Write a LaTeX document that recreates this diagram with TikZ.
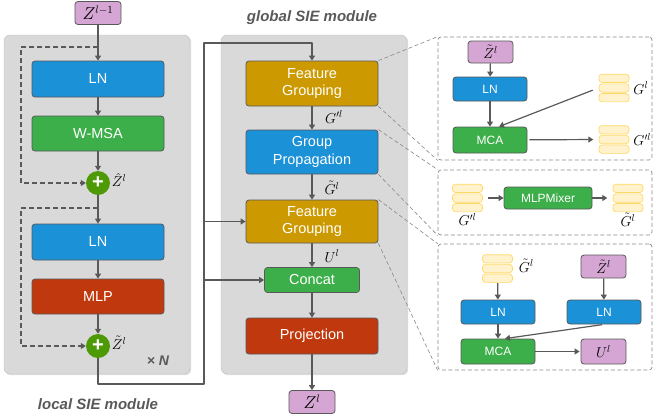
\documentclass[tikz,border=0pt]{standalone}
\usepackage{fontspec}
\setsansfont{Liberation Sans}
\usepackage{amsmath,amssymb}
\usetikzlibrary{calc,arrows.meta,shadows}
\usepackage{xcolor}

\definecolor{lnblue}{RGB}{27,145,216}
\definecolor{opgreen}{RGB}{61,175,74}
\definecolor{mlpred}{RGB}{192,57,14}
\definecolor{fggold}{RGB}{204,153,0}
\definecolor{iopink}{RGB}{213,166,211}
\definecolor{addgreen}{RGB}{78,154,6}
\definecolor{panelgray}{RGB}{217,217,217}
\definecolor{linegray}{RGB}{89,89,89}
\definecolor{guidegray}{RGB}{135,135,135}
\definecolor{tokfill}{RGB}{255,242,204}
\definecolor{tokedge}{RGB}{255,217,102}

% stack of three token bars, named #1, centred at (#2,#3)
\newcommand{\tokenstack}[3]{%
  \node[tokstack] (#1) at (#2,#3) {};
  \foreach \dy in {-9.7,0,9.7}
    \node[tokbar] at ($(#1.center)+(0,\dy)$) {};
}

\begin{document}
\begin{tikzpicture}[x=1pt, y=-1pt, line join=round,
  blk/.style={draw=linegray, line width=0.8pt, rounded corners=3pt, text=white,
    align=center, inner sep=0pt, minimum width=132pt,
    font=\sffamily\fontsize{14.5}{17.5}\selectfont},
  sblk/.style={blk, minimum width=74pt, minimum height=24pt,
    font=\sffamily\fontsize{12}{14}\selectfont},
  iobox/.style={draw=linegray, line width=0.8pt, rounded corners=3pt, fill=iopink,
    inner sep=0pt, minimum width=46pt, minimum height=23pt,
    font=\fontsize{16}{17}\selectfont},
  addop/.style={circle, fill=addgreen, minimum size=24pt, inner sep=0pt,
    text=white, font=\sffamily\bfseries\fontsize{20}{20}\selectfont},
  panel/.style={draw=panelgray!88!black, fill=panelgray, rounded corners=6pt,
    inner sep=0pt, drop shadow={shadow xshift=1.2pt, shadow yshift=-1.2pt, opacity=0.25}},
  zoombox/.style={draw=guidegray, dash pattern=on 4pt off 2.5pt, line width=0.7pt,
    rounded corners=3pt, minimum width=214pt, inner sep=0pt},
  flow/.style={draw=linegray, line width=1.2pt, -{Triangle[length=5pt,width=6pt]}},
  skip/.style={flow, dash pattern=on 5pt off 3pt},
  guide/.style={draw=guidegray, line width=0.6pt, dash pattern=on 4pt off 2.5pt},
  tokstack/.style={minimum width=31pt, minimum height=29pt, inner sep=0pt},
  tokbar/.style={draw=tokedge, fill=tokfill, rounded corners=3pt, line width=0.7pt,
    minimum width=30pt, minimum height=8.3pt, inner sep=0pt},
  lbl/.style={font=\fontsize{14}{15}\selectfont, inner sep=0.5pt},
  title/.style={font=\sffamily\bfseries\itshape\fontsize{15}{17}\selectfont, text=linegray}
]
  \useasboundingbox (0,0) rectangle (655,418);

  % grey module backgrounds
  \node[panel, minimum width=186pt, minimum height=339pt] (localbg) at (97,204.5) {};
  \node[panel, minimum width=186pt, minimum height=339pt] (globalbg) at (314,204.5) {};

  % local SIE module
  \node[iobox] (zin) at (98,13) {$Z^{l-1}$};
  \node[blk, fill=lnblue, minimum height=36pt] (ln1) at (98,79) {LN};
  \node[blk, fill=opgreen, minimum height=35pt] (wmsa) at (98,133.5) {W-MSA};
  \node[addop] (add1) at (98,183) {+};
  \node[lbl, anchor=west] (zhat) at ([xshift=1pt,yshift=3pt]add1.east) {$\hat{Z}^{l}$};
  \node[blk, fill=lnblue, minimum height=36pt] (ln2) at (98,242) {LN};
  \node[blk, fill=mlpred, minimum height=35pt] (mlp) at (98,296.5) {MLP};
  \node[addop] (add2) at (98,346) {+};
  \node[lbl, anchor=west] (ztil) at ([xshift=1pt,yshift=3pt]add2.east) {$\tilde{Z}^{l}$};
  \node[title, font=\sffamily\bfseries\itshape\fontsize{14}{16}\selectfont] (reps) at (158,361) {× N};
  \node[title] (loctitle) at (98,404) {local SIE module};

  \draw[flow] (zin) -- (ln1);
  \draw[flow] (ln1) -- (wmsa);
  \draw[flow] (wmsa) -- (add1);
  \draw[flow] (add1) -- (ln2);
  \draw[flow] (ln2) -- (mlp);
  \draw[flow] (mlp) -- (add2);

  % residual (skip) paths
  \coordinate (s1) at (98,47);
  \coordinate (s2) at (98,208);
  \draw[skip] (s1) -- ++(-77,0) |- (add1);
  \draw[skip] (s2) -- ++(-77,0) |- (add2);

  % global SIE module
  \node[title] (glotitle) at (312,18) {global SIE module};
  \node[blk, fill=fggold, minimum height=45pt] (fg1) at (312,83.5) {Feature\\Grouping};
  \node[blk, fill=lnblue, minimum height=44pt] (gp) at (312,152) {Group\\Propagation};
  \node[blk, fill=fggold, minimum height=43pt] (fg2) at (312,221.5) {Feature\\Grouping};
  \node[blk, fill=opgreen, minimum width=95pt, minimum height=25pt] (cat) at (312,280) {Concat};
  \node[blk, fill=mlpred, minimum height=36pt] (proj) at (312,336) {Projection};
  \node[iobox] (zout) at (312,402) {$Z^{l}$};

  \draw[flow] (fg1) -- (gp);
  \draw[flow] (gp) -- (fg2);
  \draw[flow] (fg2) -- (cat);
  \draw[flow] (cat) -- (proj);
  \draw[flow] (proj) -- (zout);
  \node[lbl] (gpl) at (334,117) {$G'^{l}$};
  \node[lbl] (gtl) at (332,188) {$\tilde{G}^{l}$};
  \node[lbl] (ul) at (332,256) {$U^{l}$};

  % local output into the global module
  \coordinate (r1) at (204,384);
  \coordinate (r2) at (204,43);
  \draw[flow] (add2) |- (r1) -- (r2) -| (fg1);
  \draw[flow] (r1 |- fg2) -- (fg2);
  \draw[flow] (r1 |- cat) -- (cat);

  % detail panels
  \node[zoombox, minimum height=123pt] (p1) at (545,98.5) {};
  \node[zoombox, minimum height=65pt] (p2) at (545,202.5) {};
  \node[zoombox, minimum height=126pt] (p3) at (545,307) {};
  \draw[guide] (fg1.north east) -- (p1.north west);
  \draw[guide] (fg1.south east) -- (p1.south west);
  \draw[guide] (gp.north east) -- (p2.north west);
  \draw[guide] (gp.south east) -- (p2.south west);
  \draw[guide] (fg2.north east) -- (p3.north west);
  \draw[guide] (fg2.south east) -- (p3.south west);

  % panel 1: feature grouping
  \node[iobox, minimum width=45pt, minimum height=22pt, font=\fontsize{14}{15}\selectfont] (pz1) at (490.5,52) {$\tilde{Z}^{l}$};
  \node[sblk, fill=lnblue] (pln1) at (490,89) {LN};
  \node[sblk, fill=opgreen, minimum height=26pt] (pmca1) at (490,140) {MCA};
  \tokenstack{tg1}{614}{88}
  \tokenstack{tgp1}{614}{139.5}
  \node[lbl, anchor=west] (lg1) at ([xshift=3pt]tg1.east) {$G^{l}$};
  \node[lbl, anchor=west] (lgp1) at ([xshift=3pt]tgp1.east) {$G'^{l}$};
  \draw[flow] (pz1) -- (pln1);
  \draw[flow] (pln1) -- (pmca1);
  \draw[flow, shorten <=6pt] (tg1.west) -- ([xshift=9pt]pmca1.north);
  \draw[flow, shorten <=2pt, shorten >=5pt] (pmca1) -- (tgp1.west);

  % panel 2: group propagation
  \tokenstack{tgp2}{467.5}{198}
  \node[sblk, fill=opgreen, minimum width=88pt, minimum height=22pt] (mix) at (548,198) {MLPMixer};
  \tokenstack{tgt2}{628}{198}
  \node[lbl, anchor=north] (lgp2) at (tgp2.south) {$G'^{l}$};
  \node[lbl, anchor=north] (lgt2) at (tgt2.south) {$\tilde{G}^{l}$};
  \draw[flow, shorten <=5pt] (tgp2.east) -- (mix);
  \draw[flow, shorten >=5pt] (mix) -- (tgt2.west);

  % panel 3: feature grouping with propagated groups
  \tokenstack{tgt3}{497.5}{268.5}
  \node[lbl, anchor=west] (lgt3) at ([xshift=5pt,yshift=3pt]tgt3.east) {$\tilde{G}^{l}$};
  \node[iobox, minimum width=45pt, font=\fontsize{14}{15}\selectfont] (pz3) at (603.5,266.5) {$\tilde{Z}^{l}$};
  \node[sblk, fill=lnblue] (pln3a) at (498,312) {LN};
  \node[sblk, fill=lnblue] (pln3b) at (604,312) {LN};
  \node[sblk, fill=opgreen, minimum height=25pt] (pmca3) at (498,351.5) {MCA};
  \node[iobox, minimum width=45pt, minimum height=25pt, font=\fontsize{14}{15}\selectfont] (pu3) at (603.5,351.5) {$U^{l}$};
  \draw[flow] (tgt3) -- (pln3a);
  \draw[flow] (pz3) -- (pln3b);
  \draw[flow] (pln3a) -- (pmca3);
  \draw[flow, shorten <=2pt] (pln3b.south) -- ([xshift=7pt]pmca3.north);
  \draw[flow, shorten >=1pt] (pmca3) -- (pu3);
\end{tikzpicture}
\end{document}
